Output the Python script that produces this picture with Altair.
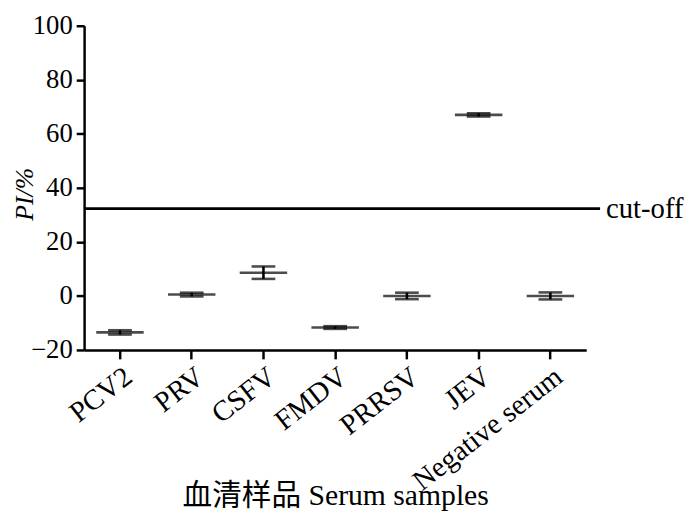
import altair as alt
import pandas as pd

categories = ["PCV2", "PRV", "CSFV", "FMDV", "PRRSV", "JEV", "Negative serum"]
means = [-13.5, 0.5, 8.6, -11.7, 0.0, 67.0, 0.0]
sds = [0.8, 0.7, 2.3, 0.5, 1.2, 0.6, 1.3]
cutoff = [32.3]
y_ticks = [-20, 0, 20, 40, 60, 80, 100]

df = pd.DataFrame({
    "cat": categories,
    "mean": means,
    "lo": [m - s for m, s in zip(means, sds)],
    "hi": [m + s for m, s in zip(means, sds)],
})
cut_df = pd.DataFrame({"cut": cutoff, "label": ["cut-off"]})

FONT = "Liberation Serif"
CJK_FONT = "Liberation Serif, Noto Sans CJK SC"

x_scale = alt.Scale(domain=categories, paddingInner=0, paddingOuter=0)
x_axis = alt.Axis(
    title="血清样品 Serum samples",
    titleFont=CJK_FONT,
    titleFontSize=30,
    titleY=156,
    titleBaseline="alphabetic",
    labelFont=FONT,
    labelAngle=322,
    labelAlign="right",
    labelBaseline="top",
    labelPadding=3,
    labelFontSize=29,
    labelLimit=400,
    tickSize=9,
    labelOverlap=False,
)
y_scale = alt.Scale(domain=[-20, 100], nice=False)
y_axis = alt.Axis(
    title="PI/%",
    titleFont=FONT,
    titleFontStyle="italic",
    titleFontSize=26,
    titleX=-60,
    titleY=170,
    titleAngle=270,
    titleAlign="center",
    titleBaseline="middle",
    values=y_ticks,
    labelFont=FONT,
    labelFontSize=27,
    labelPadding=4,
    tickSize=8,
    grid=False,
)

X = alt.X("cat:N", sort=categories, scale=x_scale, axis=x_axis)

base = alt.Chart(df)

mean_line = base.mark_tick(color="black", size=48, thickness=2.6).encode(
    x=X,
    y=alt.Y("mean:Q", scale=y_scale, axis=y_axis),
)
cap_hi = base.mark_tick(color="black", size=24, thickness=2.6).encode(
    x=X, y=alt.Y("hi:Q", scale=y_scale, axis=y_axis)
)
cap_lo = base.mark_tick(color="black", size=24, thickness=2.6).encode(
    x=X, y=alt.Y("lo:Q", scale=y_scale, axis=y_axis)
)
stem = base.mark_rule(color="black", strokeWidth=2.6).encode(
    x=X, y=alt.Y("lo:Q", scale=y_scale, axis=y_axis), y2="hi:Q"
)

cut_rule = alt.Chart(cut_df).mark_rule(color="black", strokeWidth=2.6).encode(
    y=alt.Y("cut:Q", scale=y_scale, axis=y_axis), x=alt.value(0), x2=alt.value(522)
)
cut_text = alt.Chart(cut_df).mark_text(
    align="left", baseline="middle", font=FONT, fontSize=29, color="black"
).encode(y=alt.Y("cut:Q", scale=y_scale, axis=y_axis), x=alt.value(528), text="label:N")

chart = alt.layer(mean_line, cap_hi, cap_lo, stem, cut_rule, cut_text).properties(
    width=508,
    height=328,
    autosize=alt.AutoSizeParams(type="none"),
    padding={"left": 77, "top": 15, "right": 107, "bottom": 162},
).configure_view(stroke=None).configure_axis(
    labelFont=FONT,
    labelColor="black",
    titleFont=FONT,
    titleFontWeight="normal",
    titleColor="black",
    tickColor="black",
    tickWidth=2.5,
    domainColor="black",
    domainWidth=2.5,
)

chart.save("out.html", embed_options={"renderer": "svg", "actions": False})
